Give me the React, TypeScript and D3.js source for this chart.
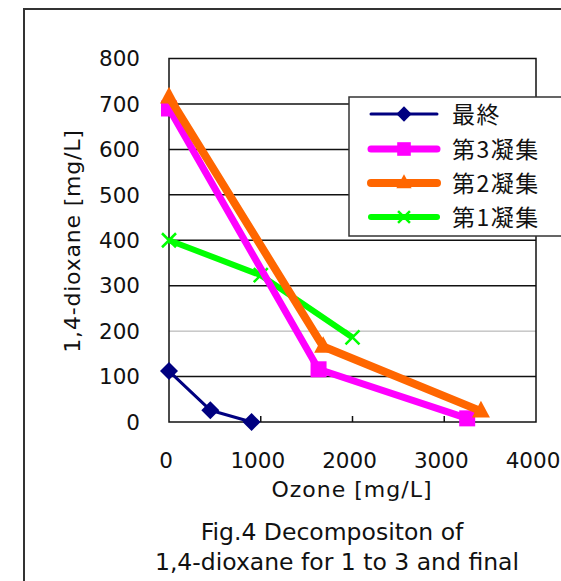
import React from "react";
import * as d3 from "d3";

// Ozone dose [mg/L] and residual 1,4-dioxane [mg/L] for each stage
const seriesNames = ["最終", "第3凝集", "第2凝集", "第1凝集"];
const finalOzone = [0, 450, 900];
const finalDioxane = [112, 26, 0];
const stage3Ozone = [0, 1630, 3250];
const stage3Dioxane = [690, 116, 8];
const stage2Ozone = [0, 1680, 3400];
const stage2Dioxane = [715, 166, 24];
const stage1Ozone = [0, 1000, 2000];
const stage1Dioxane = [400, 323, 186];

const xTicks = [0, 1000, 2000, 3000, 4000];
const yTicks = [0, 100, 200, 300, 400, 500, 600, 700, 800];

const FONT = "'DejaVu Sans', 'Noto Sans CJK JP', sans-serif";
const CJK_FONT = "'Noto Sans CJK JP', 'DejaVu Sans', sans-serif";

type Marker = "diamond" | "square" | "triangle" | "cross";

const styles: { color: string; width: number; marker: Marker; size: number }[] = [
  { color: "#000080", width: 3, marker: "diamond", size: 9 },
  { color: "#ff00ff", width: 7, marker: "square", size: 8 },
  { color: "#ff6600", width: 8, marker: "triangle", size: 9 },
  { color: "#00ff00", width: 6, marker: "cross", size: 7 },
];

function MarkerShape({ kind, x, y, size, color }: { kind: Marker; x: number; y: number; size: number; color: string }) {
  if (kind === "diamond") {
    return <path d={`M${x},${y - size}L${x + size},${y}L${x},${y + size}L${x - size},${y}Z`} fill={color} />;
  }
  if (kind === "square") {
    return <rect x={x - size} y={y - size} width={size * 2} height={size * 2} fill={color} />;
  }
  if (kind === "triangle") {
    return <path d={`M${x},${y - size * 1.15}L${x + size},${y + size * 0.7}L${x - size},${y + size * 0.7}Z`} fill={color} />;
  }
  return (
    <path
      d={`M${x - size},${y - size}L${x + size},${y + size}M${x - size},${y + size}L${x + size},${y - size}`}
      stroke={color}
      strokeWidth={2.5}
    />
  );
}

export default function App() {
  const width = 561;
  const height = 581;
  const plot = { left: 169, right: 536, top: 58.5, bottom: 422 };

  const x = d3.scaleLinear().domain([0, 4000]).range([plot.left, plot.right]);
  const y = d3.scaleLinear().domain([0, 800]).range([plot.bottom, plot.top]);

  const data = [
    finalOzone.map((o, i) => [o, finalDioxane[i]]),
    stage3Ozone.map((o, i) => [o, stage3Dioxane[i]]),
    stage2Ozone.map((o, i) => [o, stage2Dioxane[i]]),
    stage1Ozone.map((o, i) => [o, stage1Dioxane[i]]),
  ];

  const line = d3
    .line<number[]>()
    .x((d) => x(d[0]))
    .y((d) => y(d[1]));

  // draw order: final on the bottom, stage 1 drawn before stage 2/3
  const drawOrder = [0, 3, 1, 2];

  const legend = { left: 349, top: 97, bottom: 236, right: 600 };
  const legendRows = [114, 149, 183, 217];

  return (
    <svg
      width={width}
      height={height}
      style={{ position: "absolute", left: 0, top: 0, background: "#fff" }}
      fontFamily={FONT}
    >
      <rect x={0} y={0} width={width} height={height} fill="#fff" />
      {/* outer chart frame */}
      <rect x={24} y={9} width={width + 40} height={height + 40} fill="none" stroke="#333" strokeWidth={2} />

      {/* plot area grid */}
      {yTicks
        .filter((t) => t > 0 && t < 800)
        .map((t) => (
          <line
            key={t}
            x1={plot.left}
            x2={plot.right}
            y1={y(t)}
            y2={y(t)}
            stroke={t === 200 ? "#aaa" : "#111"}
            strokeWidth={t === 200 ? 1 : 1.5}
          />
        ))}
      <rect
        x={plot.left}
        y={plot.top}
        width={plot.right - plot.left}
        height={plot.bottom - plot.top}
        fill="none"
        stroke="#111"
        strokeWidth={1.5}
      />
      {xTicks
        .filter((t) => t > 0 && t < 4000)
        .map((t) => (
          <line key={t} x1={x(t)} x2={x(t)} y1={plot.bottom} y2={plot.bottom - 6} stroke="#111" strokeWidth={1.5} />
        ))}

      {/* axis tick labels */}
      {yTicks.map((t) => (
        <text key={t} x={140} y={y(t)} dy="0.36em" textAnchor="end" fontSize={21.5} fill="#111">
          {t}
        </text>
      ))}
      {xTicks.map((t) => (
        <text key={t} x={x(t) - 3} y={468} textAnchor="middle" fontSize={21.5} fill="#111">
          {t}
        </text>
      ))}

      {/* axis titles */}
      <text x={352} y={497} textAnchor="middle" fontSize={22} letterSpacing={1} fill="#111">
        Ozone [mg/L]
      </text>
      <text
        transform={`translate(${80},${241}) rotate(-90)`}
        textAnchor="middle"
        fontSize={22}
        letterSpacing={0.8}
        fill="#111"
      >
        1,4-dioxane [mg/L]
      </text>

      {/* series */}
      {drawOrder.map((i) => (
        <g key={i}>
          <path d={line(data[i] as number[][]) || ""} fill="none" stroke={styles[i].color} strokeWidth={styles[i].width} strokeLinejoin="round" />
          {data[i].map((d, j) => (
            <MarkerShape key={j} kind={styles[i].marker} x={x(d[0])} y={y(d[1])} size={styles[i].size} color={styles[i].color} />
          ))}
        </g>
      ))}

      {/* legend */}
      <rect
        x={legend.left}
        y={legend.top}
        width={legend.right - legend.left}
        height={legend.bottom - legend.top}
        fill="#fff"
        stroke="#333"
        strokeWidth={1.5}
      />
      {seriesNames.map((name, i) => (
        <g key={name}>
          <line x1={371} x2={437} y1={legendRows[i]} y2={legendRows[i]} stroke={styles[i].color} strokeWidth={styles[i].width} strokeLinecap="round" />
          <MarkerShape kind={styles[i].marker} x={404} y={legendRows[i]} size={styles[i].size * 0.85} color={styles[i].color} />
          <text
            x={452}
            y={legendRows[i]}
            dy="0.38em"
            fontSize={23}
            letterSpacing={1.5}
            fill="#111"
            fontFamily={CJK_FONT}
          >
            {name}
          </text>
        </g>
      ))}

      {/* caption */}
      <text x={332} y={540} textAnchor="middle" fontSize={23.5} fill="#111">
        Fig.4 Decompositon of
      </text>
      <text x={337} y={570} textAnchor="middle" fontSize={23.5} fill="#111">
        1,4-dioxane for 1 to 3 and final
      </text>
    </svg>
  );
}
